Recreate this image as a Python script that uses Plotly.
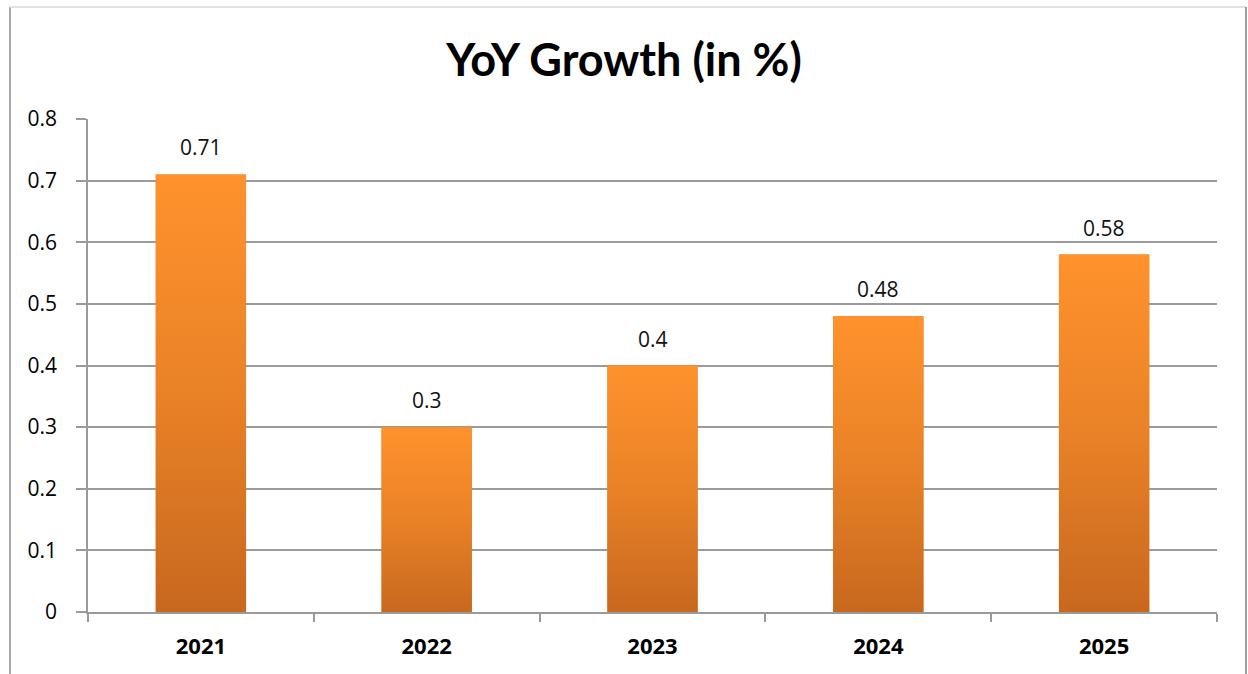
import plotly.graph_objects as go

years = ["2021", "2022", "2023", "2024", "2025"]
growth = [0.71, 0.3, 0.4, 0.48, 0.58]
y_ticks = [0, 0.1, 0.2, 0.3, 0.4, 0.5, 0.6, 0.7, 0.8]

W, H = 1248, 674
L, R, T, B = 88, 31, 119, 62
BAR_HALF = 0.2
AXIS_GREY = "#9a9a9a"
NUM_FONT = "Open Sans"

fig = go.Figure()

# base bars (solid) and gradient overlays on top of them
pos = list(range(len(years)))
fig.add_trace(go.Bar(x=pos, y=growth, width=2 * BAR_HALF, marker=dict(color="#e97d26", line=dict(width=0)),
                     hoverinfo="skip", showlegend=False))
for i, v in zip(pos, growth):
    fig.add_trace(go.Scatter(
        x=[i - BAR_HALF, i + BAR_HALF, i + BAR_HALF, i - BAR_HALF, i - BAR_HALF],
        y=[0, 0, v, v, 0],
        mode="lines", line=dict(width=0), fill="toself",
        fillgradient=dict(type="vertical", colorscale=[[0, "#c8681f"], [0.5, "#e98227"], [1, "#ff922c"]]),
        hoverinfo="skip", showlegend=False))
    fig.add_annotation(x=i, y=v, text=f"{v:g}", showarrow=False, yanchor="middle", yshift=27,
                       font=dict(family=NUM_FONT, size=21, color="#111111"))

# outer frame of the chart
def px_x(p):
    return (p - L) / (W - L - R)

def px_y(p):
    return 1 - (p - T) / (H - T - B)

fig.add_shape(type="line", xref="paper", yref="paper", x0=px_x(10), x1=px_x(10), y0=px_y(7), y1=px_y(690),
              line=dict(color="#a8a8a8", width=2))
fig.add_shape(type="line", xref="paper", yref="paper", x0=px_x(10), x1=px_x(1246), y0=px_y(7), y1=px_y(7),
              line=dict(color="#e2e2e2", width=2))
fig.add_shape(type="line", xref="paper", yref="paper", x0=px_x(1246), x1=px_x(1246), y0=px_y(7), y1=px_y(690),
              line=dict(color="#a0a0a0", width=2))

fig.update_layout(
    width=W, height=H,
    margin=dict(l=L, r=R, t=T, b=B),
    paper_bgcolor="white", plot_bgcolor="white",
    title=dict(text="<b>YoY Growth (in %)</b>", xref="container", x=0.5, xanchor="center",
               yref="container", y=1 - 60 / H, yanchor="middle",
               font=dict(family="Lato", size=45, color="#000000")),
    xaxis=dict(range=[-0.5, len(years) - 0.5], tickvals=pos, ticktext=[f"<b>{y}</b>" for y in years],
               ticks="", showgrid=False, zeroline=False,
               showline=True, linecolor=AXIS_GREY, linewidth=1.5,
               tickfont=dict(family=NUM_FONT, size=22, color="#000000"), ticklabelstandoff=14,
               minor=dict(tick0=0.5, dtick=1, ticks="outside", ticklen=8, tickcolor=AXIS_GREY, tickwidth=1.5,
                          showgrid=False)),
    yaxis=dict(range=[0, 0.8], tickvals=y_ticks, ticktext=[f"{t:g}" for t in y_ticks],
               ticks="outside", ticklen=10, tickcolor=AXIS_GREY, tickwidth=1.5,
               showgrid=True, gridcolor=AXIS_GREY, gridwidth=1.5, zeroline=False,
               showline=True, linecolor=AXIS_GREY, linewidth=1.5,
               tickfont=dict(family=NUM_FONT, size=21, color="#000000"), ticklabelstandoff=15),
    bargap=0.6,
)

fig.write_html("out.html")
